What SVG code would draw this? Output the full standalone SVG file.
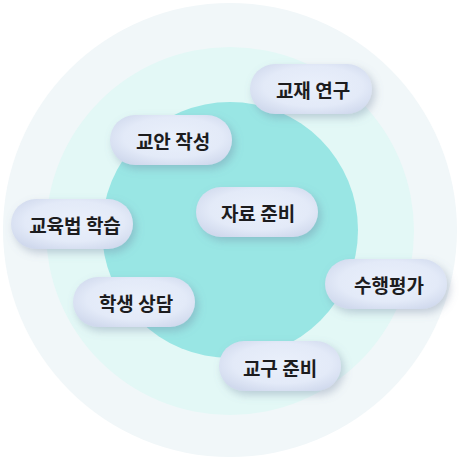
<svg xmlns="http://www.w3.org/2000/svg" width="467" height="461" viewBox="0 0 467 461">
<defs>
<radialGradient id="pg" cx="0.52" cy="0.45" r="0.62">
<stop offset="0" stop-color="#eaf0fb"/>
<stop offset="0.65" stop-color="#e3eaf8"/>
<stop offset="1" stop-color="#d0d9ed"/>
</radialGradient>
<filter id="sh" x="-20%" y="-40%" width="150%" height="190%">
<feDropShadow dx="3" dy="4" stdDeviation="4" flood-color="#6a7d9a" flood-opacity="0.35"/>
</filter>
</defs>
<style>
.pill{fill:url(#pg);filter:url(#sh)}
.lbl{font-family:"Noto Sans CJK KR","Noto Sans",sans-serif;font-size:19px;font-weight:700;fill:#1c1c1e;text-anchor:middle;dominant-baseline:central}
</style>
<g id="background">
<circle cx="230" cy="230" r="227" fill="#f1f7f9"/>
<circle cx="230" cy="231" r="184" fill="#e3f8f6"/>
<circle cx="230" cy="230" r="128" fill="#99e6e4"/>
</g>
<g id="connectors"></g>
<g id="n1"><rect class="pill" x="250" y="64" width="122" height="50" rx="25"/><text class="lbl" x="313" y="89">교재 연구</text></g>
<g id="n2"><rect class="pill" x="110" y="115" width="122" height="50" rx="25"/><text class="lbl" x="173" y="140">교안 작성</text></g>
<g id="n3"><rect class="pill" x="11" y="199" width="122" height="50" rx="25"/><text class="lbl" x="75" y="224">교육법 학습</text></g>
<g id="n4"><rect class="pill" x="196" y="187" width="122" height="50" rx="25"/><text class="lbl" x="258" y="212">자료 준비</text></g>
<g id="n5"><rect class="pill" x="325" y="259" width="122" height="50" rx="25"/><text class="lbl" x="389" y="284">수행평가</text></g>
<g id="n6"><rect class="pill" x="73" y="277" width="122" height="50" rx="25"/><text class="lbl" x="136" y="302">학생 상담</text></g>
<g id="n7"><rect class="pill" x="219" y="341" width="122" height="50" rx="25"/><text class="lbl" x="280" y="367">교구 준비</text></g>
</svg>
